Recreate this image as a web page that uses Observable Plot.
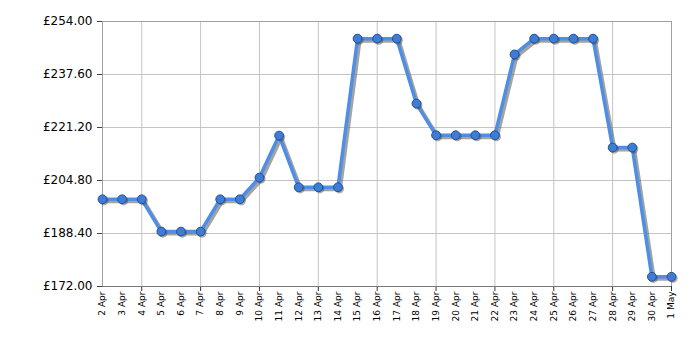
<!DOCTYPE html>
<html>
<head>
<meta charset="utf-8">
<script src="https://cdn.jsdelivr.net/npm/d3@7"></script>
<script src="https://cdn.jsdelivr.net/npm/@observablehq/plot@0.6"></script>
<style>
  html, body { margin: 0; padding: 0; background: #fff; }
</style>
</head>
<body>
<div id="chart"></div>
<script>
const dates = ["2 Apr","3 Apr","4 Apr","5 Apr","6 Apr","7 Apr","8 Apr","9 Apr","10 Apr","11 Apr",
  "12 Apr","13 Apr","14 Apr","15 Apr","16 Apr","17 Apr","18 Apr","19 Apr","20 Apr","21 Apr",
  "22 Apr","23 Apr","24 Apr","25 Apr","26 Apr","27 Apr","28 Apr","29 Apr","30 Apr","1 May"];
const prices = [198.99,198.99,198.99,188.99,188.99,188.99,198.99,198.99,205.7,218.7,
  202.7,202.7,202.7,248.7,248.7,248.7,228.6,218.8,218.8,218.8,
  218.8,243.8,248.7,248.7,248.7,248.7,215.0,215.0,175.0,175.0];
const yTicks = [172, 188.4, 204.8, 221.2, 237.6, 254];
const gridDates = ["4 Apr","7 Apr","10 Apr","13 Apr","16 Apr","19 Apr","22 Apr","25 Apr","28 Apr","1 May"];

const data = dates.map((d, i) => ({i, date: d, price: prices[i]}));
const allIdx = dates.map((d, i) => i);
const gridIdx = gridDates.map(d => dates.indexOf(d));

const chart = Plot.plot({
  width: 700,
  height: 350,
  marginLeft: 102,
  marginRight: 29,
  marginTop: 21,
  marginBottom: 64,
  style: {fontFamily: "DejaVu Sans, Verdana, sans-serif", color: "#000", background: "#fff"},
  x: {type: "linear", domain: [0, dates.length - 1], label: null},
  y: {domain: [172, 254], label: null},
  marks: [
    Plot.gridY(yTicks, {stroke: "#c4c4c4", strokeOpacity: 1}),
    Plot.ruleX(gridIdx, {stroke: "#c4c4c4", strokeOpacity: 1}),
    Plot.frame({stroke: "#a0a0a0"}),
    Plot.axisY(yTicks, {tickFormat: d => "£" + d.toFixed(2), tickSize: 5, tickPadding: 5, fontSize: 12, stroke: "#444", label: null}),
    Plot.axisX(allIdx, {tickSize: 0, tickRotate: -90, fontSize: 9, tickPadding: 5, tickFormat: i => dates[i], label: null}),
    Plot.axisX(gridIdx, {tickSize: 5, tickFormat: () => "", stroke: "#333", label: null}),
    Plot.ruleY([172], {stroke: "#777"}),
    Plot.line(data, {x: "i", y: "price", stroke: "#666", strokeWidth: 4, strokeOpacity: 0.6, dx: 2, dy: 2}),
    Plot.line(data, {x: "i", y: "price", stroke: "#4f8ee6", strokeWidth: 3.5}),
    Plot.dot(data, {x: "i", y: "price", r: 4.6, fill: "#444", fillOpacity: 0.45, stroke: "none", dx: 1.5, dy: 1.5}),
    Plot.dot(data, {x: "i", y: "price", r: 4.4, fill: "#3f7cd6", stroke: "#234f94", strokeWidth: 1})
  ]
});
document.getElementById("chart").append(chart);
</script>
</body>
</html>
